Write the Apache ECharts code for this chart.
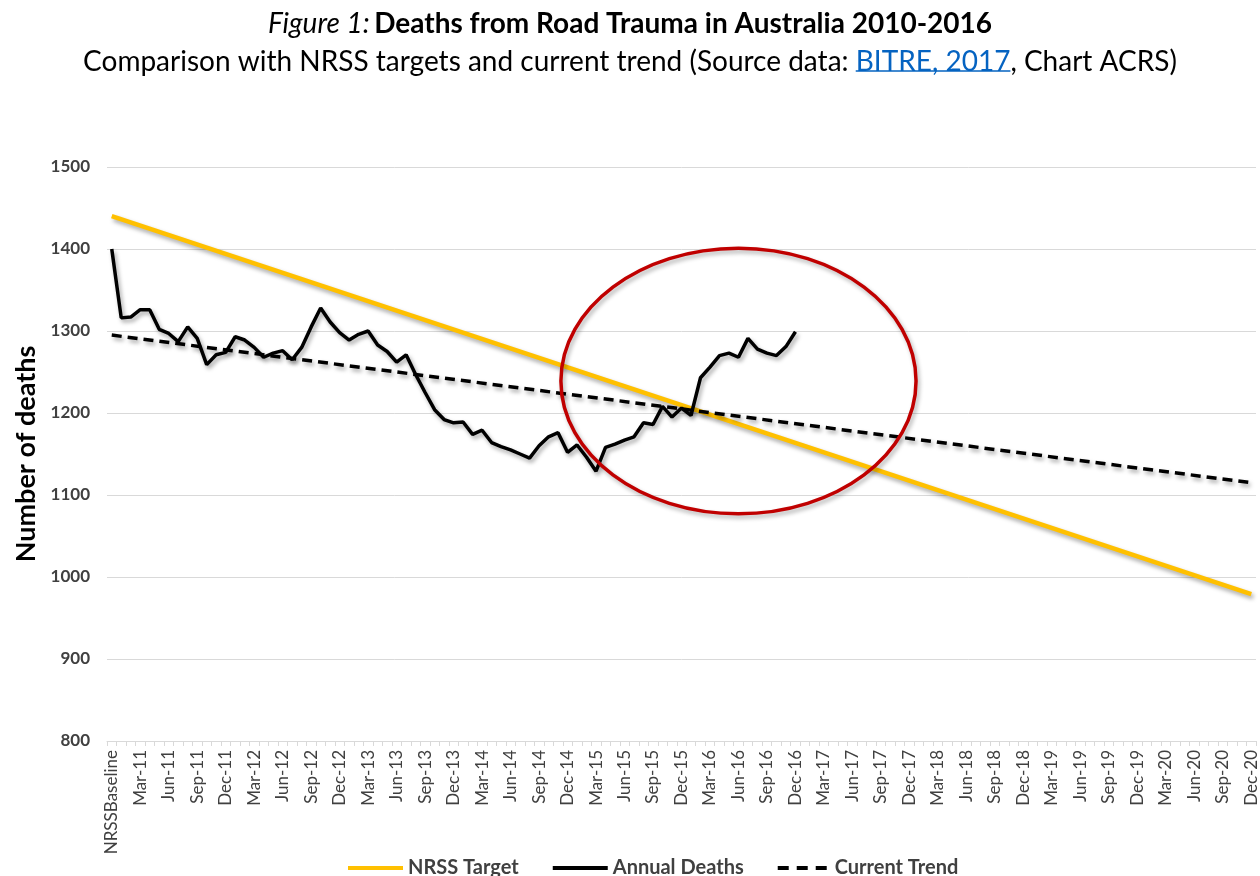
<!DOCTYPE html>
<html>
<head>
<meta charset="utf-8">
<script src="https://cdn.jsdelivr.net/npm/echarts@6/dist/echarts.min.js"></script>
<style>
html,body{margin:0;padding:0;background:#fff;}
#chart{width:1260px;height:876px;}
</style>
</head>
<body>
<div id="chart"></div>
<script>
// ---- data ----
const baselineLabel = 'NRSSBaseline';
const monthNames = ['Jan','Feb','Mar','Apr','May','Jun','Jul','Aug','Sep','Oct','Nov','Dec'];
const years = ['11','12','13','14','15','16','17','18','19','20'];

// Annual deaths (rolling 12-month totals), monthly from baseline (Dec-10) to Dec-16
const annualDeaths = [
  1400, 1316, 1317, 1326, 1326, 1302, 1297, 1287, 1305, 1291,
  1259, 1271, 1274, 1293, 1289, 1280, 1268, 1273, 1276, 1265,
  1280, 1305, 1328, 1311, 1298, 1289, 1296, 1300, 1283, 1275,
  1262, 1271, 1247, 1225, 1204, 1192, 1188, 1189, 1174, 1179,
  1164, 1159, 1155, 1150, 1145, 1160, 1171, 1176, 1152, 1161,
  1146, 1129, 1158, 1162, 1167, 1171, 1188, 1186, 1208, 1195,
  1206, 1197, 1243, 1256, 1270, 1273, 1268, 1291, 1278, 1273,
  1270, 1281, 1299
];
// NRSS target: straight line from baseline to Dec-20
const targetStart = 1440;
const targetEnd = 979;
// Current trend: straight line from baseline to Dec-20
const trendStart = 1295;
const trendEnd = 1115;

const yTicks = { min: 800, max: 1500, interval: 100 };

const subtitlePre = 'Comparison with NRSS targets and current trend (Source data: ';
const subtitleLink = 'BITRE, 2017';
const subtitlePost = ', Chart ACRS)';

// ---- build ----
const categories = [baselineLabel];
years.forEach(y => monthNames.forEach(m => categories.push(m + '-' + y)));
const n = categories.length;

function endpoints(a, b) {
  const arr = new Array(n).fill(null);
  arr[0] = a; arr[n - 1] = b;
  return arr;
}

const FONT = 'Lato, "Liberation Sans", sans-serif';
const TS = 28;
const shadow = { shadowColor: 'rgba(0,0,0,0.35)', shadowBlur: 4, shadowOffsetX: 2, shadowOffsetY: 3 };

const chart = echarts.init(document.getElementById('chart'), null, { renderer: 'canvas' });
chart.setOption({
  backgroundColor: '#ffffff',
  animation: false,
  textStyle: { fontFamily: FONT },
  title: {
    left: 'center',
    top: 0,
    text: '{i|Figure 1:} {b|Deaths from Road Trauma in Australia 2010-2016}\n{n|' + subtitlePre + '}{l|' + subtitleLink + '}{n|' + subtitlePost + '}',
    textStyle: {
      fontFamily: FONT,
      fontWeight: 'normal',
      rich: {
        i: { fontStyle: 'italic', fontWeight: 'normal', fontSize: TS, color: '#000', fontFamily: FONT, lineHeight: 38 },
        b: { fontWeight: 'bold', fontSize: TS, color: '#000', fontFamily: FONT, lineHeight: 38 },
        n: { fontWeight: 'normal', fontSize: TS, color: '#000', fontFamily: FONT, lineHeight: 38 },
        l: { fontWeight: 'normal', fontSize: TS, color: '#0563C1', fontFamily: FONT, lineHeight: 38 }
      }
    }
  },
  grid: { left: 107, right: 4, top: 167, bottom: 135, containLabel: false },
  legend: {
    top: 853,
    left: 343,
    itemWidth: 55,
    itemHeight: 4,
    itemGap: 34,
    textStyle: { fontFamily: FONT, fontWeight: 'bold', fontSize: 20, color: '#404040' },
    data: [
      { name: 'NRSS Target', icon: 'path://M0,0h55v4h-55z', itemStyle: { color: '#FFC000' } },
      { name: 'Annual Deaths', icon: 'path://M0,0h55v4h-55z', itemStyle: { color: '#000000' } },
      { name: 'Current Trend', icon: 'path://M0,0h11v4h-11zM19,0h11v4h-11zM38,0h11v4h-11z', itemStyle: { color: '#000000' } }
    ]
  },
  xAxis: {
    type: 'category',
    data: categories,
    boundaryGap: true,
    axisLine: { lineStyle: { color: '#d9d9d9', width: 1 } },
    axisTick: { show: true, interval: 0, length: 5, lineStyle: { color: '#d9d9d9' } },
    axisLabel: { interval: 2, rotate: 90, fontSize: 17, color: '#404040', fontFamily: FONT, margin: 9 },
    splitLine: { show: false }
  },
  yAxis: {
    type: 'value',
    min: yTicks.min, max: yTicks.max, interval: yTicks.interval,
    name: 'Number of deaths',
    nameLocation: 'middle',
    nameGap: 66,
    nameRotate: 90,
    nameTextStyle: { fontFamily: FONT, fontWeight: 'bold', fontSize: 27, color: '#000' },
    axisLine: { show: false },
    axisTick: { show: false },
    axisLabel: { fontSize: 17, fontWeight: 'bold', color: '#404040', fontFamily: FONT, margin: 17, formatter: v => String(v) },
    splitLine: { lineStyle: { color: '#d9d9d9', width: 1 } }
  },
  series: [
    {
      name: 'NRSS Target', type: 'line', data: endpoints(targetStart, targetEnd),
      connectNulls: true, symbol: 'none', z: 3,
      lineStyle: Object.assign({ color: '#FFC000', width: 4.5 }, shadow),
      itemStyle: { color: '#FFC000' }
    },
    {
      name: 'Annual Deaths', type: 'line', data: annualDeaths,
      symbol: 'none', z: 4,
      lineStyle: Object.assign({ color: '#000000', width: 3.5 }, shadow),
      itemStyle: { color: '#000000' }
    },
    {
      name: 'Current Trend', type: 'line', data: endpoints(trendStart, trendEnd),
      connectNulls: true, symbol: 'none', z: 3,
      lineStyle: Object.assign({ color: '#000000', width: 3.5, type: [10, 6] }, shadow),
      itemStyle: { color: '#000000' }
    }
  ]
});

// Underline for the link text, measured from the font
const ctx = document.createElement('canvas').getContext('2d');
ctx.font = TS + 'px ' + FONT;
const wPre = ctx.measureText(subtitlePre).width;
const wLink = ctx.measureText(subtitleLink).width;
const wAll = wPre + wLink + ctx.measureText(subtitlePost).width;
const lineStart = 630 - wAll / 2;
const ux1 = lineStart + wPre;
const ux2 = ux1 + wLink;

// Red ellipse annotation anchored in data space
const center = chart.convertToPixel({ xAxisIndex: 0, yAxisIndex: 0 }, [66, 1239]);
const p0 = chart.convertToPixel({ xAxisIndex: 0 }, 0);
const p1 = chart.convertToPixel({ xAxisIndex: 0 }, 1);
const perCat = p1 - p0;
const yTop = chart.convertToPixel({ yAxisIndex: 0 }, 1401);
const rx = perCat * 18.7;
const ry = center[1] - yTop;
chart.setOption({
  graphic: [
    {
      type: 'ellipse',
      shape: { cx: center[0], cy: center[1], rx: rx, ry: ry },
      style: { fill: null, stroke: '#C00000', lineWidth: 3.5, shadowColor: 'rgba(0,0,0,0.3)', shadowBlur: 4, shadowOffsetX: 2, shadowOffsetY: 3 },
      z: 100
    },
    {
      type: 'line',
      shape: { x1: ux1, y1: 71, x2: ux2, y2: 71 },
      style: { stroke: '#0563C1', lineWidth: 1.5 },
      z: 100
    }
  ]
});
</script>
</body>
</html>
